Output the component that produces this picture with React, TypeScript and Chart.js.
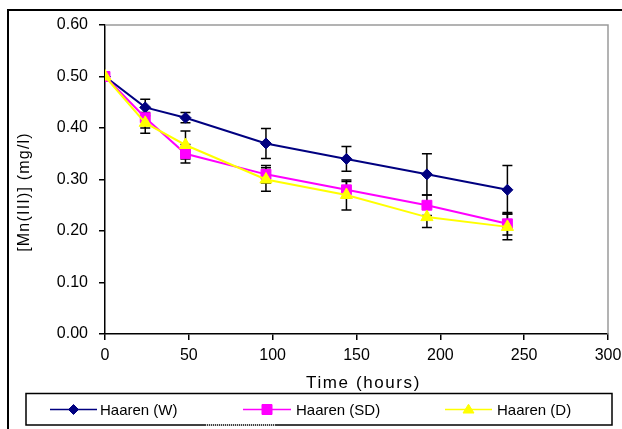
import React, { useEffect, useRef } from 'react';
import { Chart, registerables } from 'chart.js';

Chart.register(...registerables);

const FONT = '"Liberation Sans", Arial, Helvetica, sans-serif';

// ---- data ----
const hours = [0, 24, 48, 96, 144, 192, 240];
const haarenW = [0.5, 0.44, 0.42, 0.37, 0.34, 0.31, 0.28];
const haarenSD = [0.5, 0.42, 0.35, 0.31, 0.28, 0.25, 0.214];
const haarenD = [0.5, 0.41, 0.367, 0.3, 0.27, 0.227, 0.208];
const errW = [0, 0.016, 0.01, 0.029, 0.024, 0.04, 0.047];
const errSD = [0, 0.02, 0.018, 0.017, 0.016, 0.02, 0.022];
const errD = [0, 0.02, 0.027, 0.023, 0.029, 0.02, 0.025];

const seriesLabels = ['Haaren (W)', 'Haaren (SD)', 'Haaren (D)'];
const seriesColors = ['#000080', '#FF00FF', '#FFFF00'];
const seriesStyles = ['rectRot', 'rect', 'triangle'];
const seriesRadius = [5.5, 7, 7];

const xMin = 0;
const xMax = 300;
const xStep = 50;
const yMin = 0;
const yMax = 0.6;
const yStep = 0.1;
const xTitle = 'Time (hours)';
const yTitle = '[Mn(III)] (mg/l)';

const seriesValues = [haarenW, haarenSD, haarenD];
const seriesErrors = [errW, errSD, errD];

function drawMarker(ctx: CanvasRenderingContext2D, style: string, x: number, y: number, r: number, color: string) {
  ctx.save();
  ctx.fillStyle = color;
  ctx.strokeStyle = color;
  ctx.lineWidth = 1;
  ctx.beginPath();
  if (style === 'rectRot') {
    ctx.moveTo(x, y - r);
    ctx.lineTo(x + r, y);
    ctx.lineTo(x, y + r);
    ctx.lineTo(x - r, y);
  } else if (style === 'rect') {
    ctx.rect(x - r, y - r, 2 * r, 2 * r);
  } else {
    const h = r * 1.6;
    ctx.moveTo(x, y - h * 0.6);
    ctx.lineTo(x + r, y + h * 0.4);
    ctx.lineTo(x - r, y + h * 0.4);
  }
  ctx.closePath();
  ctx.fill();
  ctx.stroke();
  ctx.restore();
}

const decorPlugin = {
  id: 'decor',
  beforeDatasetsDraw(chart: any) {
    const ctx: CanvasRenderingContext2D = chart.ctx;
    const { left, right, top, bottom } = chart.chartArea;
    ctx.save();
    // grey plot frame (top / right)
    ctx.strokeStyle = '#9a9a9a';
    ctx.lineWidth = 1.5;
    ctx.beginPath();
    ctx.moveTo(left, top);
    ctx.lineTo(right, top);
    ctx.lineTo(right, bottom);
    ctx.stroke();
    // error bars
    const xs = chart.scales.x;
    const ys = chart.scales.y;
    ctx.strokeStyle = '#000000';
    ctx.lineWidth = 1.5;
    seriesValues.forEach((vals, i) => {
      vals.forEach((v, j) => {
        const e = seriesErrors[i][j];
        if (!e) return;
        const x = xs.getPixelForValue(hours[j]);
        const y1 = ys.getPixelForValue(v + e);
        const y2 = ys.getPixelForValue(v - e);
        ctx.beginPath();
        ctx.moveTo(x, y1);
        ctx.lineTo(x, y2);
        ctx.moveTo(x - 5, y1);
        ctx.lineTo(x + 5, y1);
        ctx.moveTo(x - 5, y2);
        ctx.lineTo(x + 5, y2);
        ctx.stroke();
      });
    });
    ctx.restore();
  },
  afterDraw(chart: any) {
    const ctx: CanvasRenderingContext2D = chart.ctx;
    const { left, right } = chart.chartArea;
    ctx.save();
    // outer border
    ctx.strokeStyle = '#000000';
    ctx.lineWidth = 2;
    ctx.strokeRect(8, 10, 640, 440);

    // axis titles
    ctx.fillStyle = '#000000';
    ctx.textAlign = 'center';
    ctx.textBaseline = 'middle';
    ctx.font = '17px ' + FONT;
    (ctx as any).letterSpacing = '1.6px';
    ctx.fillText(xTitle, (left + right) / 2 + 7, 383);

    ctx.save();
    ctx.translate(25, 192);
    ctx.rotate(-Math.PI / 2);
    ctx.font = '16px ' + FONT;
    (ctx as any).letterSpacing = '1.2px';
    ctx.fillText(yTitle, 0, 0);
    ctx.restore();
    (ctx as any).letterSpacing = '0px';

    // legend box
    ctx.strokeStyle = '#000000';
    ctx.lineWidth = 1.5;
    ctx.strokeRect(26, 393.5, 586, 31.5);
    ctx.strokeStyle = '#ffffff';
    ctx.lineWidth = 1.5;
    ctx.setLineDash([1, 1]);
    ctx.beginPath();
    ctx.moveTo(206, 425);
    ctx.lineTo(275, 425);
    ctx.stroke();
    ctx.setLineDash([]);

    const lineStarts = [50, 243, 445];
    const lineEnds = [97, 291, 492];
    const textX = [100, 296, 497];
    const ly = 409.5;
    const legendR = [5, 5, 5.5];
    ctx.font = '15px ' + FONT;
    ctx.textAlign = 'left';
    ctx.textBaseline = 'middle';
    seriesLabels.forEach((lab, i) => {
      ctx.strokeStyle = seriesColors[i];
      ctx.lineWidth = 1.5;
      ctx.beginPath();
      ctx.moveTo(lineStarts[i], ly);
      ctx.lineTo(lineEnds[i], ly);
      ctx.stroke();
      drawMarker(ctx, seriesStyles[i], (lineStarts[i] + lineEnds[i]) / 2, ly, legendR[i], seriesColors[i]);
      ctx.fillStyle = '#000000';
      ctx.fillText(lab, textX[i], ly + 1);
    });
    ctx.restore();
  },
};

export default function App() {
  const ref = useRef<HTMLCanvasElement | null>(null);
  useEffect(() => {
    if (!ref.current) return;
    const datasets = seriesLabels.map((label, i) => ({
      label,
      data: hours.map((h, j) => ({ x: h, y: seriesValues[i][j] })),
      showLine: true,
      borderColor: seriesColors[i],
      backgroundColor: seriesColors[i],
      borderWidth: 2,
      pointStyle: seriesStyles[i] as any,
      pointRadius: seriesRadius[i],
      pointBorderWidth: 1,
      pointBorderColor: seriesColors[i],
      pointBackgroundColor: seriesColors[i],
      order: 2 - i,
      tension: 0,
    }));
    const chart = new Chart(ref.current, {
      type: 'scatter',
      data: { datasets },
      options: {
        animation: false,
        responsive: false,
        layout: { padding: { left: 0, right: 14, top: 25, bottom: 55 } },
        plugins: {
          legend: { display: false },
          tooltip: { enabled: false },
        },
        scales: {
          x: {
            type: 'linear',
            min: xMin,
            max: xMax,
            afterFit: (s: any) => { s.height = 40; s.paddingRight = 0; s.paddingLeft = 0; },
            ticks: {
              stepSize: xStep,
              color: '#000000',
              font: { family: FONT, size: 16 },
              padding: 6,
              maxRotation: 0,
            },
            grid: { drawOnChartArea: false, drawTicks: true, tickLength: 6, color: '#000000', lineWidth: 1.5 },
            border: { display: true, color: '#000000', width: 1.5 },
          },
          y: {
            type: 'linear',
            min: yMin,
            max: yMax,
            afterFit: (s: any) => { s.width = 105; s.paddingTop = 0; s.paddingBottom = 0; },
            ticks: {
              stepSize: yStep,
              color: '#000000',
              font: { family: FONT, size: 16 },
              padding: 11,
              callback: (v: any) => Number(v).toFixed(2),
            },
            grid: { drawOnChartArea: false, drawTicks: true, tickLength: 6, color: '#000000', lineWidth: 1.5 },
            border: { display: true, color: '#000000', width: 1.5 },
          },
        },
      },
      plugins: [decorPlugin],
    });
    return () => chart.destroy();
  }, []);
  return (
    <div style={{ position: 'absolute', left: 0, top: 0, width: 622, height: 429, background: '#ffffff' }}>
      <canvas ref={ref} width={622} height={429} style={{ display: 'block', width: 622, height: 429 }} />
    </div>
  );
}
